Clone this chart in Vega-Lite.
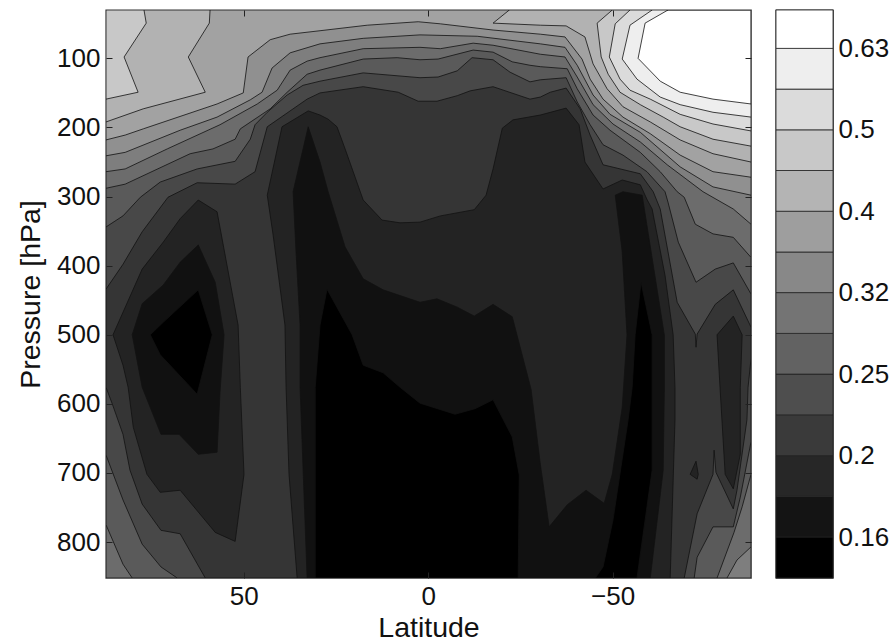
{"$schema":"https://vega.github.io/schema/vega-lite/v6.json","padding":{"left":15,"top":8,"right":0,"bottom":0},"background":"white","spacing":21,"resolve":{"scale":{"fill":"independent"}},"config":{"font":"Liberation Sans","view":{"stroke":"#333","strokeWidth":1.4},"axis":{"grid":false,"labelFont":"Liberation Sans","titleFont":"Liberation Sans","labelFontSize":26,"titleFontSize":28.5,"titleFontWeight":"normal","labelColor":"#111","titleColor":"#111","domain":false,"tickColor":"#222"}},"datasets":{"poly":[
{"level":13,"part":"a14","i":0,"lat":87.3,"p":30},{"level":13,"part":"a14","i":1,"lat":87.3,"p":852},{"level":13,"part":"a14","i":2,"lat":-87.5,"p":852},{"level":13,"part":"a14","i":3,"lat":-87.5,"p":166},{"level":13,"part":"a14","i":4,"lat":-77.2,"p":159},{"level":13,"part":"a14","i":5,"lat":-68.3,"p":149},{"level":13,"part":"a14","i":6,"lat":-62.9,"p":133},{"level":13,"part":"a14","i":7,"lat":-56.9,"p":100},{"level":13,"part":"a14","i":8,"lat":-58.8,"p":49},{"level":13,"part":"a14","i":9,"lat":-65,"p":30},
{"level":12,"part":"a13","i":0,"lat":87.3,"p":30},{"level":12,"part":"a13","i":1,"lat":87.3,"p":852},{"level":12,"part":"a13","i":2,"lat":-87.5,"p":852},{"level":12,"part":"a13","i":3,"lat":-87.5,"p":185},{"level":12,"part":"a13","i":4,"lat":-77.2,"p":178},{"level":12,"part":"a13","i":5,"lat":-68.3,"p":167},{"level":12,"part":"a13","i":6,"lat":-62.9,"p":156},{"level":12,"part":"a13","i":7,"lat":-56.6,"p":130},{"level":12,"part":"a13","i":8,"lat":-52.6,"p":101},{"level":12,"part":"a13","i":9,"lat":-54.7,"p":52},{"level":12,"part":"a13","i":10,"lat":-60.7,"p":30},
{"level":11,"part":"a12","i":0,"lat":87.3,"p":30},{"level":11,"part":"a12","i":1,"lat":87.3,"p":852},{"level":11,"part":"a12","i":2,"lat":-87.5,"p":852},{"level":11,"part":"a12","i":3,"lat":-87.5,"p":205},{"level":11,"part":"a12","i":4,"lat":-77.2,"p":195},{"level":11,"part":"a12","i":5,"lat":-68.3,"p":181},{"level":11,"part":"a12","i":6,"lat":-60.2,"p":159},{"level":11,"part":"a12","i":7,"lat":-54.7,"p":146},{"level":11,"part":"a12","i":8,"lat":-52,"p":130},{"level":11,"part":"a12","i":9,"lat":-49.1,"p":98},{"level":11,"part":"a12","i":10,"lat":-50.7,"p":50},{"level":11,"part":"a12","i":11,"lat":-54.7,"p":30},
{"level":10,"part":"a11","i":0,"lat":77,"p":30},{"level":10,"part":"a11","i":1,"lat":76.4,"p":49},{"level":10,"part":"a11","i":2,"lat":82.4,"p":98},{"level":10,"part":"a11","i":3,"lat":78.6,"p":149},{"level":10,"part":"a11","i":4,"lat":87.3,"p":159},{"level":10,"part":"a11","i":5,"lat":87.3,"p":852},{"level":10,"part":"a11","i":6,"lat":-87.5,"p":852},{"level":10,"part":"a11","i":7,"lat":-87.5,"p":227},{"level":10,"part":"a11","i":8,"lat":-77.2,"p":217},{"level":10,"part":"a11","i":9,"lat":-68.3,"p":199},{"level":10,"part":"a11","i":10,"lat":-63.7,"p":185},{"level":10,"part":"a11","i":11,"lat":-57.5,"p":167},{"level":10,"part":"a11","i":12,"lat":-52,"p":149},{"level":10,"part":"a11","i":13,"lat":-48.8,"p":123},{"level":10,"part":"a11","i":14,"lat":-46.9,"p":98},{"level":10,"part":"a11","i":15,"lat":-45.8,"p":49},{"level":10,"part":"a11","i":16,"lat":-49.9,"p":30},
{"level":9,"part":"a10","i":0,"lat":59.1,"p":30},{"level":9,"part":"a10","i":1,"lat":59.3,"p":49},{"level":9,"part":"a10","i":2,"lat":65,"p":98},{"level":9,"part":"a10","i":3,"lat":60.4,"p":149},{"level":9,"part":"a10","i":4,"lat":77.2,"p":173},{"level":9,"part":"a10","i":5,"lat":87.3,"p":192},{"level":9,"part":"a10","i":6,"lat":87.3,"p":852},{"level":9,"part":"a10","i":7,"lat":-87.5,"p":852},{"level":9,"part":"a10","i":8,"lat":-87.5,"p":250},{"level":9,"part":"a10","i":9,"lat":-77.2,"p":238},{"level":9,"part":"a10","i":10,"lat":-68.3,"p":218},{"level":9,"part":"a10","i":11,"lat":-60.2,"p":192},{"level":9,"part":"a10","i":12,"lat":-52.8,"p":170},{"level":9,"part":"a10","i":13,"lat":-48.5,"p":144},{"level":9,"part":"a10","i":14,"lat":-44.7,"p":108},{"level":9,"part":"a10","i":15,"lat":-42.5,"p":69},{"level":9,"part":"a10","i":16,"lat":-37.4,"p":53},{"level":9,"part":"a10","i":17,"lat":-30.4,"p":52},{"level":9,"part":"a10","i":18,"lat":-17.6,"p":49},{"level":9,"part":"a10","i":19,"lat":-22,"p":30},
{"level":8,"part":"a09","i":0,"lat":87.3,"p":218},{"level":8,"part":"a09","i":1,"lat":82.1,"p":211},{"level":8,"part":"a09","i":2,"lat":77.2,"p":202},{"level":8,"part":"a09","i":3,"lat":57.2,"p":166},{"level":8,"part":"a09","i":4,"lat":50.1,"p":150},{"level":8,"part":"a09","i":5,"lat":48.8,"p":98},{"level":8,"part":"a09","i":6,"lat":42.8,"p":73},{"level":8,"part":"a09","i":7,"lat":37.4,"p":65},{"level":8,"part":"a09","i":8,"lat":29.3,"p":60},{"level":8,"part":"a09","i":9,"lat":16.5,"p":52},{"level":8,"part":"a09","i":10,"lat":2.7,"p":47},{"level":8,"part":"a09","i":11,"lat":-3.3,"p":50},{"level":8,"part":"a09","i":12,"lat":-17.6,"p":59},{"level":8,"part":"a09","i":13,"lat":-30.4,"p":65},{"level":8,"part":"a09","i":14,"lat":-37.1,"p":69},{"level":8,"part":"a09","i":15,"lat":-41.7,"p":101},{"level":8,"part":"a09","i":16,"lat":-43.9,"p":130},{"level":8,"part":"a09","i":17,"lat":-47.4,"p":159},{"level":8,"part":"a09","i":18,"lat":-52.8,"p":185},{"level":8,"part":"a09","i":19,"lat":-60.2,"p":209},{"level":8,"part":"a09","i":20,"lat":-68.3,"p":240},{"level":8,"part":"a09","i":21,"lat":-77.2,"p":264},{"level":8,"part":"a09","i":22,"lat":-87.5,"p":272},{"level":8,"part":"a09","i":23,"lat":-87.5,"p":852},{"level":8,"part":"a09","i":24,"lat":87.3,"p":852},
{"level":7,"part":"a08","i":0,"lat":87.3,"p":241},{"level":7,"part":"a08","i":1,"lat":82.1,"p":236},{"level":7,"part":"a08","i":2,"lat":67.2,"p":204},{"level":7,"part":"a08","i":3,"lat":57.2,"p":185},{"level":7,"part":"a08","i":4,"lat":48.2,"p":160},{"level":7,"part":"a08","i":5,"lat":45,"p":149},{"level":7,"part":"a08","i":6,"lat":42.3,"p":114},{"level":7,"part":"a08","i":7,"lat":37.4,"p":92},{"level":7,"part":"a08","i":8,"lat":29.3,"p":79},{"level":7,"part":"a08","i":9,"lat":17.6,"p":71},{"level":7,"part":"a08","i":10,"lat":2.2,"p":66},{"level":7,"part":"a08","i":11,"lat":-13.3,"p":68},{"level":7,"part":"a08","i":12,"lat":-30.4,"p":79},{"level":7,"part":"a08","i":13,"lat":-37.1,"p":84},{"level":7,"part":"a08","i":14,"lat":-40.4,"p":110},{"level":7,"part":"a08","i":15,"lat":-44.7,"p":153},{"level":7,"part":"a08","i":16,"lat":-49.3,"p":181},{"level":7,"part":"a08","i":17,"lat":-57.5,"p":207},{"level":7,"part":"a08","i":18,"lat":-68.3,"p":257},{"level":7,"part":"a08","i":19,"lat":-77.2,"p":286},{"level":7,"part":"a08","i":20,"lat":-87.5,"p":298},{"level":7,"part":"a08","i":21,"lat":-87.5,"p":852},{"level":7,"part":"a08","i":22,"lat":87.3,"p":852},
{"level":6,"part":"a07","i":0,"lat":87.3,"p":264},{"level":6,"part":"a07","i":1,"lat":82.1,"p":260},{"level":6,"part":"a07","i":2,"lat":70.7,"p":231},{"level":6,"part":"a07","i":3,"lat":56.4,"p":196},{"level":6,"part":"a07","i":4,"lat":46.3,"p":166},{"level":6,"part":"a07","i":5,"lat":40.9,"p":146},{"level":6,"part":"a07","i":6,"lat":37.4,"p":117},{"level":6,"part":"a07","i":7,"lat":32.8,"p":104},{"level":6,"part":"a07","i":8,"lat":29.3,"p":99},{"level":6,"part":"a07","i":9,"lat":17.6,"p":86},{"level":6,"part":"a07","i":10,"lat":2.2,"p":84},{"level":6,"part":"a07","i":11,"lat":-3.3,"p":86},{"level":6,"part":"a07","i":12,"lat":-12.2,"p":78},{"level":6,"part":"a07","i":13,"lat":-17.6,"p":81},{"level":6,"part":"a07","i":14,"lat":-30.4,"p":94},{"level":6,"part":"a07","i":15,"lat":-37.1,"p":98},{"level":6,"part":"a07","i":16,"lat":-40.4,"p":127},{"level":6,"part":"a07","i":17,"lat":-44.7,"p":167},{"level":6,"part":"a07","i":18,"lat":-50.1,"p":195},{"level":6,"part":"a07","i":19,"lat":-57.5,"p":221},{"level":6,"part":"a07","i":20,"lat":-64.8,"p":254},{"level":6,"part":"a07","i":21,"lat":-74.5,"p":293},{"level":6,"part":"a07","i":22,"lat":-82.7,"p":318},{"level":6,"part":"a07","i":23,"lat":-87.5,"p":340},{"level":6,"part":"a07","i":24,"lat":-87.5,"p":807},{"level":6,"part":"a07","i":25,"lat":-83.7,"p":826},{"level":6,"part":"a07","i":26,"lat":-81,"p":852},{"level":6,"part":"a07","i":27,"lat":87.3,"p":852},
{"level":5,"part":"a06","i":0,"lat":87.3,"p":288},{"level":5,"part":"a06","i":1,"lat":82.1,"p":282},{"level":5,"part":"a06","i":2,"lat":64.5,"p":238},{"level":5,"part":"a06","i":3,"lat":58.3,"p":231},{"level":5,"part":"a06","i":4,"lat":52.3,"p":217},{"level":5,"part":"a06","i":5,"lat":50.9,"p":202},{"level":5,"part":"a06","i":6,"lat":42.8,"p":173},{"level":5,"part":"a06","i":7,"lat":38.2,"p":149},{"level":5,"part":"a06","i":8,"lat":32.8,"p":123},{"level":5,"part":"a06","i":9,"lat":29.3,"p":117},{"level":5,"part":"a06","i":10,"lat":17.6,"p":101},{"level":5,"part":"a06","i":11,"lat":8.4,"p":99},{"level":5,"part":"a06","i":12,"lat":2.2,"p":102},{"level":5,"part":"a06","i":13,"lat":-2.7,"p":101},{"level":5,"part":"a06","i":14,"lat":-12.2,"p":88},{"level":5,"part":"a06","i":15,"lat":-17.6,"p":91},{"level":5,"part":"a06","i":16,"lat":-22.8,"p":105},{"level":5,"part":"a06","i":17,"lat":-27.6,"p":110},{"level":5,"part":"a06","i":18,"lat":-30.4,"p":112},{"level":5,"part":"a06","i":19,"lat":-37.7,"p":115},{"level":5,"part":"a06","i":20,"lat":-40.4,"p":144},{"level":5,"part":"a06","i":21,"lat":-44.7,"p":182},{"level":5,"part":"a06","i":22,"lat":-49.3,"p":204},{"level":5,"part":"a06","i":23,"lat":-57.5,"p":236},{"level":5,"part":"a06","i":24,"lat":-62.9,"p":264},{"level":5,"part":"a06","i":25,"lat":-67.5,"p":293},{"level":5,"part":"a06","i":26,"lat":-69.4,"p":301},{"level":5,"part":"a06","i":27,"lat":-72.4,"p":340},{"level":5,"part":"a06","i":28,"lat":-77.2,"p":354},{"level":5,"part":"a06","i":29,"lat":-82.7,"p":359},{"level":5,"part":"a06","i":30,"lat":-87.5,"p":388},{"level":5,"part":"a06","i":31,"lat":-87.5,"p":702},{"level":5,"part":"a06","i":32,"lat":-85.1,"p":749},{"level":5,"part":"a06","i":33,"lat":-82.9,"p":786},{"level":5,"part":"a06","i":34,"lat":-78.3,"p":852},{"level":5,"part":"a06","i":35,"lat":80.2,"p":852},{"level":5,"part":"a06","i":36,"lat":82.7,"p":832},{"level":5,"part":"a06","i":37,"lat":87.3,"p":775},
{"level":4,"part":"a05","i":0,"lat":87.3,"p":344},{"level":4,"part":"a05","i":1,"lat":82.7,"p":328},{"level":4,"part":"a05","i":2,"lat":78,"p":301},{"level":4,"part":"a05","i":3,"lat":72.6,"p":279},{"level":4,"part":"a05","i":4,"lat":62.6,"p":260},{"level":4,"part":"a05","i":5,"lat":52.3,"p":249},{"level":4,"part":"a05","i":6,"lat":48.2,"p":217},{"level":4,"part":"a05","i":7,"lat":46.9,"p":196},{"level":4,"part":"a05","i":8,"lat":43.6,"p":178},{"level":4,"part":"a05","i":9,"lat":38.2,"p":153},{"level":4,"part":"a05","i":10,"lat":33.9,"p":139},{"level":4,"part":"a05","i":11,"lat":29.3,"p":133},{"level":4,"part":"a05","i":12,"lat":17.6,"p":121},{"level":4,"part":"a05","i":13,"lat":2.2,"p":128},{"level":4,"part":"a05","i":14,"lat":-2.7,"p":127},{"level":4,"part":"a05","i":15,"lat":-7.9,"p":118},{"level":4,"part":"a05","i":16,"lat":-11.9,"p":99},{"level":4,"part":"a05","i":17,"lat":-17.6,"p":102},{"level":4,"part":"a05","i":18,"lat":-22.2,"p":120},{"level":4,"part":"a05","i":19,"lat":-27.6,"p":134},{"level":4,"part":"a05","i":20,"lat":-30.4,"p":131},{"level":4,"part":"a05","i":21,"lat":-37.4,"p":128},{"level":4,"part":"a05","i":22,"lat":-40.4,"p":163},{"level":4,"part":"a05","i":23,"lat":-43.9,"p":196},{"level":4,"part":"a05","i":24,"lat":-47.4,"p":225},{"level":4,"part":"a05","i":25,"lat":-52.8,"p":240},{"level":4,"part":"a05","i":26,"lat":-59.3,"p":264},{"level":4,"part":"a05","i":27,"lat":-64.2,"p":293},{"level":4,"part":"a05","i":28,"lat":-65,"p":308},{"level":4,"part":"a05","i":29,"lat":-67.8,"p":366},{"level":4,"part":"a05","i":30,"lat":-72.6,"p":424},{"level":4,"part":"a05","i":31,"lat":-77.8,"p":405},{"level":4,"part":"a05","i":32,"lat":-82.7,"p":396},{"level":4,"part":"a05","i":33,"lat":-87.5,"p":441},{"level":4,"part":"a05","i":34,"lat":-87.5,"p":655},{"level":4,"part":"a05","i":35,"lat":-84.6,"p":735},{"level":4,"part":"a05","i":36,"lat":-82.7,"p":778},{"level":4,"part":"a05","i":37,"lat":-77.2,"p":778},{"level":4,"part":"a05","i":38,"lat":-72.9,"p":822},{"level":4,"part":"a05","i":39,"lat":-72.1,"p":852},{"level":4,"part":"a05","i":40,"lat":68,"p":852},{"level":4,"part":"a05","i":41,"lat":72.4,"p":836},{"level":4,"part":"a05","i":42,"lat":77.5,"p":803},{"level":4,"part":"a05","i":43,"lat":82.7,"p":739},{"level":4,"part":"a05","i":44,"lat":87.3,"p":674},
{"level":3,"part":"a04","i":0,"lat":87.3,"p":434},{"level":3,"part":"a04","i":1,"lat":82.7,"p":398},{"level":3,"part":"a04","i":2,"lat":77.5,"p":351},{"level":3,"part":"a04","i":3,"lat":70.5,"p":301},{"level":3,"part":"a04","i":4,"lat":62.6,"p":280},{"level":3,"part":"a04","i":5,"lat":52.3,"p":282},{"level":3,"part":"a04","i":6,"lat":46.9,"p":264},{"level":3,"part":"a04","i":7,"lat":43.6,"p":199},{"level":3,"part":"a04","i":8,"lat":32.8,"p":159},{"level":3,"part":"a04","i":9,"lat":29.3,"p":150},{"level":3,"part":"a04","i":10,"lat":17.6,"p":141},{"level":3,"part":"a04","i":11,"lat":8.1,"p":149},{"level":3,"part":"a04","i":12,"lat":2.7,"p":162},{"level":3,"part":"a04","i":13,"lat":-2.4,"p":162},{"level":3,"part":"a04","i":14,"lat":-7.9,"p":154},{"level":3,"part":"a04","i":15,"lat":-11.4,"p":147},{"level":3,"part":"a04","i":16,"lat":-17.6,"p":141},{"level":3,"part":"a04","i":17,"lat":-27.6,"p":159},{"level":3,"part":"a04","i":18,"lat":-30.4,"p":156},{"level":3,"part":"a04","i":19,"lat":-33.1,"p":149},{"level":3,"part":"a04","i":20,"lat":-37.4,"p":143},{"level":3,"part":"a04","i":21,"lat":-41.2,"p":173},{"level":3,"part":"a04","i":22,"lat":-43.9,"p":211},{"level":3,"part":"a04","i":23,"lat":-47.4,"p":254},{"level":3,"part":"a04","i":24,"lat":-57.5,"p":267},{"level":3,"part":"a04","i":25,"lat":-61,"p":293},{"level":3,"part":"a04","i":26,"lat":-62.9,"p":318},{"level":3,"part":"a04","i":27,"lat":-67.5,"p":453},{"level":3,"part":"a04","i":28,"lat":-72.4,"p":499},{"level":3,"part":"a04","i":29,"lat":-72.6,"p":518},{"level":3,"part":"a04","i":30,"lat":-72.9,"p":499},{"level":3,"part":"a04","i":31,"lat":-77.8,"p":456},{"level":3,"part":"a04","i":32,"lat":-82.7,"p":435},{"level":3,"part":"a04","i":33,"lat":-87.5,"p":489},{"level":3,"part":"a04","i":34,"lat":-87.5,"p":535},{"level":3,"part":"a04","i":35,"lat":-86.7,"p":576},{"level":3,"part":"a04","i":36,"lat":-86.4,"p":623},{"level":3,"part":"a04","i":37,"lat":-83.7,"p":725},{"level":3,"part":"a04","i":38,"lat":-82.7,"p":752},{"level":3,"part":"a04","i":39,"lat":-78,"p":699},{"level":3,"part":"a04","i":40,"lat":-77.5,"p":667},{"level":3,"part":"a04","i":41,"lat":-77.2,"p":702},{"level":3,"part":"a04","i":42,"lat":-72.9,"p":759},{"level":3,"part":"a04","i":43,"lat":-69.4,"p":852},{"level":3,"part":"a04","i":44,"lat":60.4,"p":852},{"level":3,"part":"a04","i":45,"lat":67.2,"p":788},{"level":3,"part":"a04","i":46,"lat":72.4,"p":783},{"level":3,"part":"a04","i":47,"lat":77.5,"p":745},{"level":3,"part":"a04","i":48,"lat":80.8,"p":696},{"level":3,"part":"a04","i":49,"lat":82.7,"p":644},{"level":3,"part":"a04","i":50,"lat":85.6,"p":600},{"level":3,"part":"a04","i":51,"lat":87.3,"p":576},
{"level":2,"part":"a03m","i":0,"lat":35.5,"p":852},{"level":2,"part":"a03m","i":1,"lat":37.7,"p":702},{"level":2,"part":"a03m","i":2,"lat":38.5,"p":576},{"level":2,"part":"a03m","i":3,"lat":38.8,"p":486},{"level":2,"part":"a03m","i":4,"lat":42,"p":356},{"level":2,"part":"a03m","i":5,"lat":43.6,"p":298},{"level":2,"part":"a03m","i":6,"lat":39.6,"p":199},{"level":2,"part":"a03m","i":7,"lat":32.5,"p":176},{"level":2,"part":"a03m","i":8,"lat":29.3,"p":182},{"level":2,"part":"a03m","i":9,"lat":27.1,"p":188},{"level":2,"part":"a03m","i":10,"lat":24.7,"p":199},{"level":2,"part":"a03m","i":11,"lat":22.5,"p":231},{"level":2,"part":"a03m","i":12,"lat":17.6,"p":305},{"level":2,"part":"a03m","i":13,"lat":12.5,"p":334},{"level":2,"part":"a03m","i":14,"lat":7.6,"p":338},{"level":2,"part":"a03m","i":15,"lat":2.2,"p":337},{"level":2,"part":"a03m","i":16,"lat":-3.3,"p":328},{"level":2,"part":"a03m","i":17,"lat":-12.5,"p":319},{"level":2,"part":"a03m","i":18,"lat":-15.7,"p":298},{"level":2,"part":"a03m","i":19,"lat":-17.6,"p":260},{"level":2,"part":"a03m","i":20,"lat":-20.1,"p":201},{"level":2,"part":"a03m","i":21,"lat":-23,"p":189},{"level":2,"part":"a03m","i":22,"lat":-30.4,"p":182},{"level":2,"part":"a03m","i":23,"lat":-37.4,"p":172},{"level":2,"part":"a03m","i":24,"lat":-40.9,"p":196},{"level":2,"part":"a03m","i":25,"lat":-42.5,"p":250},{"level":2,"part":"a03m","i":26,"lat":-47.4,"p":289},{"level":2,"part":"a03m","i":27,"lat":-52.6,"p":276},{"level":2,"part":"a03m","i":28,"lat":-57.5,"p":283},{"level":2,"part":"a03m","i":29,"lat":-59.3,"p":304},{"level":2,"part":"a03m","i":30,"lat":-60.7,"p":318},{"level":2,"part":"a03m","i":31,"lat":-64.2,"p":414},{"level":2,"part":"a03m","i":32,"lat":-66.4,"p":500},{"level":2,"part":"a03m","i":33,"lat":-66.9,"p":576},{"level":2,"part":"a03m","i":34,"lat":-66.9,"p":623},{"level":2,"part":"a03m","i":35,"lat":-65.6,"p":852},
{"level":2,"part":"a03l","i":0,"lat":62.3,"p":305},{"level":2,"part":"a03l","i":1,"lat":57.2,"p":322},{"level":2,"part":"a03l","i":2,"lat":51.5,"p":486},{"level":2,"part":"a03l","i":3,"lat":50.9,"p":576},{"level":2,"part":"a03l","i":4,"lat":49.9,"p":702},{"level":2,"part":"a03l","i":5,"lat":52.3,"p":799},{"level":2,"part":"a03l","i":6,"lat":57.7,"p":786},{"level":2,"part":"a03l","i":7,"lat":67.2,"p":725},{"level":2,"part":"a03l","i":8,"lat":72.6,"p":728},{"level":2,"part":"a03l","i":9,"lat":76.2,"p":702},{"level":2,"part":"a03l","i":10,"lat":79.9,"p":634},{"level":2,"part":"a03l","i":11,"lat":81.3,"p":576},{"level":2,"part":"a03l","i":12,"lat":82.7,"p":544},{"level":2,"part":"a03l","i":13,"lat":85.4,"p":500},{"level":2,"part":"a03l","i":14,"lat":77.5,"p":405},{"level":2,"part":"a03l","i":15,"lat":71.8,"p":366},{"level":2,"part":"a03l","i":16,"lat":67.2,"p":332},{"level":2,"part":"a03l","i":17,"lat":62.3,"p":305},
{"level":2,"part":"a03r","i":0,"lat":-78.3,"p":500},{"level":2,"part":"a03r","i":1,"lat":-82.7,"p":473},{"level":2,"part":"a03r","i":2,"lat":-85.1,"p":500},{"level":2,"part":"a03r","i":3,"lat":-84.6,"p":576},{"level":2,"part":"a03r","i":4,"lat":-84.6,"p":673},{"level":2,"part":"a03r","i":5,"lat":-82.7,"p":723},{"level":2,"part":"a03r","i":6,"lat":-80.5,"p":702},{"level":2,"part":"a03r","i":7,"lat":-79.1,"p":576},{"level":2,"part":"a03r","i":8,"lat":-78.3,"p":500},
{"level":2,"part":"a03s","i":0,"lat":-72.6,"p":683},{"level":2,"part":"a03s","i":1,"lat":-71,"p":702},{"level":2,"part":"a03s","i":2,"lat":-72.9,"p":709},{"level":2,"part":"a03s","i":3,"lat":-73.2,"p":702},{"level":2,"part":"a03s","i":4,"lat":-72.6,"p":683},
{"level":1,"part":"a02m","i":0,"lat":32.5,"p":199},{"level":1,"part":"a02m","i":1,"lat":29.3,"p":250},{"level":1,"part":"a02m","i":2,"lat":27.1,"p":293},{"level":1,"part":"a02m","i":3,"lat":22.5,"p":373},{"level":1,"part":"a02m","i":4,"lat":17.6,"p":419},{"level":1,"part":"a02m","i":5,"lat":12.2,"p":435},{"level":1,"part":"a02m","i":6,"lat":2.2,"p":453},{"level":1,"part":"a02m","i":7,"lat":-2.4,"p":448},{"level":1,"part":"a02m","i":8,"lat":-7.9,"p":460},{"level":1,"part":"a02m","i":9,"lat":-12.5,"p":473},{"level":1,"part":"a02m","i":10,"lat":-17.6,"p":456},{"level":1,"part":"a02m","i":11,"lat":-22.8,"p":474},{"level":1,"part":"a02m","i":12,"lat":-27.9,"p":579},{"level":1,"part":"a02m","i":13,"lat":-30.4,"p":687},{"level":1,"part":"a02m","i":14,"lat":-32.8,"p":778},{"level":1,"part":"a02m","i":15,"lat":-37.7,"p":746},{"level":1,"part":"a02m","i":16,"lat":-42.8,"p":725},{"level":1,"part":"a02m","i":17,"lat":-47.7,"p":744},{"level":1,"part":"a02m","i":18,"lat":-49.9,"p":702},{"level":1,"part":"a02m","i":19,"lat":-52.6,"p":605},{"level":1,"part":"a02m","i":20,"lat":-53.9,"p":500},{"level":1,"part":"a02m","i":21,"lat":-52.6,"p":380},{"level":1,"part":"a02m","i":22,"lat":-50.7,"p":298},{"level":1,"part":"a02m","i":23,"lat":-52.8,"p":293},{"level":1,"part":"a02m","i":24,"lat":-58,"p":298},{"level":1,"part":"a02m","i":25,"lat":-64,"p":500},{"level":1,"part":"a02m","i":26,"lat":-64,"p":583},{"level":1,"part":"a02m","i":27,"lat":-63.7,"p":696},{"level":1,"part":"a02m","i":28,"lat":-60.2,"p":852},{"level":1,"part":"a02m","i":29,"lat":32.8,"p":852},{"level":1,"part":"a02m","i":30,"lat":34.7,"p":576},{"level":1,"part":"a02m","i":31,"lat":34.7,"p":486},{"level":1,"part":"a02m","i":32,"lat":35.8,"p":380},{"level":1,"part":"a02m","i":33,"lat":36.6,"p":293},{"level":1,"part":"a02m","i":34,"lat":32.5,"p":199},
{"level":1,"part":"a02l","i":0,"lat":62.3,"p":370},{"level":1,"part":"a02l","i":1,"lat":57.7,"p":424},{"level":1,"part":"a02l","i":2,"lat":55.3,"p":500},{"level":1,"part":"a02l","i":3,"lat":56.4,"p":583},{"level":1,"part":"a02l","i":4,"lat":57.2,"p":670},{"level":1,"part":"a02l","i":5,"lat":62.3,"p":673},{"level":1,"part":"a02l","i":6,"lat":67.5,"p":644},{"level":1,"part":"a02l","i":7,"lat":72.4,"p":644},{"level":1,"part":"a02l","i":8,"lat":77.5,"p":576},{"level":1,"part":"a02l","i":9,"lat":80.2,"p":500},{"level":1,"part":"a02l","i":10,"lat":77.5,"p":455},{"level":1,"part":"a02l","i":11,"lat":71.8,"p":428},{"level":1,"part":"a02l","i":12,"lat":67.2,"p":395},{"level":1,"part":"a02l","i":13,"lat":62.3,"p":370},
{"level":0,"part":"a01l","i":0,"lat":62.3,"p":435},{"level":0,"part":"a01l","i":1,"lat":58.5,"p":500},{"level":0,"part":"a01l","i":2,"lat":62.6,"p":586},{"level":0,"part":"a01l","i":3,"lat":72.6,"p":529},{"level":0,"part":"a01l","i":4,"lat":75.3,"p":500},{"level":0,"part":"a01l","i":5,"lat":71.8,"p":482},{"level":0,"part":"a01l","i":6,"lat":62.3,"p":435},
{"level":0,"part":"a01m","i":0,"lat":27.4,"p":434},{"level":0,"part":"a01m","i":1,"lat":20.6,"p":500},{"level":0,"part":"a01m","i":2,"lat":17.6,"p":544},{"level":0,"part":"a01m","i":3,"lat":12.2,"p":555},{"level":0,"part":"a01m","i":4,"lat":7.6,"p":576},{"level":0,"part":"a01m","i":5,"lat":2.2,"p":599},{"level":0,"part":"a01m","i":6,"lat":-7.3,"p":615},{"level":0,"part":"a01m","i":7,"lat":-12.7,"p":607},{"level":0,"part":"a01m","i":8,"lat":-17.6,"p":594},{"level":0,"part":"a01m","i":9,"lat":-22.8,"p":648},{"level":0,"part":"a01m","i":10,"lat":-24.7,"p":703},{"level":0,"part":"a01m","i":11,"lat":-24.4,"p":852},{"level":0,"part":"a01m","i":12,"lat":30.6,"p":852},{"level":0,"part":"a01m","i":13,"lat":30.6,"p":576},{"level":0,"part":"a01m","i":14,"lat":29.3,"p":486},{"level":0,"part":"a01m","i":15,"lat":27.4,"p":434},
{"level":0,"part":"a01r","i":0,"lat":-57.7,"p":424},{"level":0,"part":"a01r","i":1,"lat":-60.7,"p":500},{"level":0,"part":"a01r","i":2,"lat":-60.7,"p":696},{"level":0,"part":"a01r","i":3,"lat":-56.6,"p":852},{"level":0,"part":"a01r","i":4,"lat":-45.3,"p":852},{"level":0,"part":"a01r","i":5,"lat":-47.4,"p":836},{"level":0,"part":"a01r","i":6,"lat":-50.1,"p":768},{"level":0,"part":"a01r","i":7,"lat":-54.2,"p":623},{"level":0,"part":"a01r","i":8,"lat":-55.3,"p":576},{"level":0,"part":"a01r","i":9,"lat":-56.1,"p":500},{"level":0,"part":"a01r","i":10,"lat":-57.7,"p":424}
]},"hconcat":[{"width":645,"height":568,"data":{"name":"poly"},"layer":[{"mark":{"type":"line","stroke":"#111","strokeWidth":0.8,"clip":true,"interpolate":"linear-closed"},"encoding":{"x":{"field":"lat","type":"quantitative","scale":{"domain":[87.3,-87.5],"nice":false,"zero":false},"axis":{"values":[50,0,-50],"title":"Latitude","tickSize":-6,"labelPadding":11,"titlePadding":4,"format":"d","labelFlush":false,"zindex":1}},"y":{"field":"p","type":"quantitative","scale":{"domain":[852,30],"nice":false,"zero":false},"axis":{"values":[100,200,300,400,500,600,700,800],"title":"Pressure [hPa]","tickSize":-6,"labelPadding":12,"titlePadding":11,"format":"d","zindex":1}},"detail":{"field":"part"},"order":{"field":"i","type":"quantitative"},"fill":{"field":"level","type":"ordinal","legend":null,"scale":{"domain":[0,1,2,3,4,5,6,7,8,9,10,11,12,13],"range":["#000000","#111111","#232323","#353535","#484848","#5a5a5a","#6c6c6c","#7e7e7e","#909090","#a2a2a2","#b2b2b2","#c8c8c8","#dbdbdb","#eeeeee"]}}}},{"mark":{"type":"line","opacity":0,"clip":true},"encoding":{"x":{"field":"lat","type":"quantitative","axis":{"orient":"top","values":[50,0,-50],"title":null,"labels":false,"tickSize":-6,"zindex":1}},"y":{"field":"p","type":"quantitative","axis":{"orient":"right","values":[100,200,300,400,500,600,700,800],"title":null,"labels":false,"tickSize":-6,"zindex":1}},"detail":{"field":"part"},"order":{"field":"i","type":"quantitative"}}}],"resolve":{"axis":{"x":"independent","y":"independent"}}},{"width":57,"height":568,"data":{"values":[{"shade":0,"lo":0.1426,"hi":0.16},{"shade":1,"lo":0.16,"hi":0.1794},{"shade":2,"lo":0.1794,"hi":0.2011},{"shade":3,"lo":0.2011,"hi":0.2255},{"shade":4,"lo":0.2255,"hi":0.2528},{"shade":5,"lo":0.2528,"hi":0.2834},{"shade":6,"lo":0.2834,"hi":0.3178},{"shade":7,"lo":0.3178,"hi":0.3562},{"shade":8,"lo":0.3562,"hi":0.3994},{"shade":9,"lo":0.3994,"hi":0.4478},{"shade":10,"lo":0.4478,"hi":0.502},{"shade":11,"lo":0.502,"hi":0.5628},{"shade":12,"lo":0.5628,"hi":0.631},{"shade":13,"lo":0.631,"hi":0.7028}]},"mark":{"type":"rect","stroke":"#222","strokeWidth":0.8},"encoding":{"x":{"value":0},"x2":{"value":57},"y":{"field":"lo","type":"quantitative","scale":{"type":"log","domain":[0.1426,0.7028],"nice":false,"zero":false},"axis":{"orient":"right","values":[0.16,0.2011,0.2528,0.3178,0.3994,0.502,0.631],"format":".2~f","title":null,"tickSize":0,"labelPadding":5}},"y2":{"field":"hi"},"fill":{"field":"shade","type":"ordinal","legend":null,"scale":{"domain":[0,1,2,3,4,5,6,7,8,9,10,11,12,13],"range":["#000000","#141414","#272727","#3a3a3a","#4e4e4e","#626262","#747474","#888888","#9e9e9e","#b4b4b4","#c8c8c8","#dbdbdb","#eeeeee","#ffffff"]}}}}]}
